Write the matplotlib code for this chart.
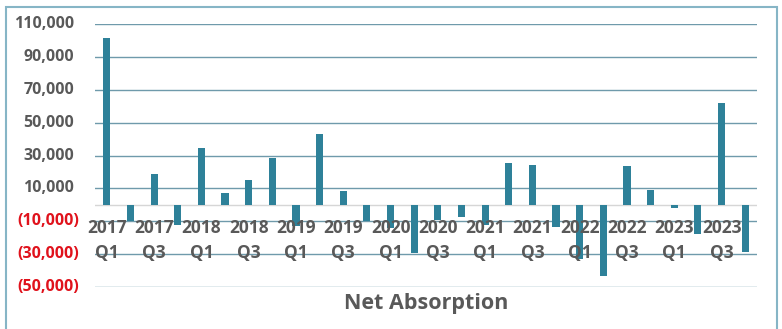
import matplotlib
matplotlib.use("Agg")
import matplotlib.pyplot as plt
import matplotlib.transforms as mtransforms
from matplotlib.patches import Rectangle

quarters = [f"{y} Q{q}" for y in range(2017, 2024) for q in range(1, 5)]
values = [101500, -9800, 18500, -12300, 34800, 6900, 15100, 28300,
          -13000, 43000, 8300, -9800, -14000, -29200, -9200, -7500,
          -12200, 25500, 24500, -13200, -33000, -43200, 23400, 9200,
          -2000, -17700, 62000, -28500]
tick_labels = ["2017\nQ1", "2017\nQ3", "2018\nQ1", "2018\nQ3", "2019\nQ1", "2019\nQ3",
               "2020\nQ1", "2020\nQ3", "2021\nQ1", "2021\nQ3", "2022\nQ1", "2022\nQ3",
               "2023\nQ1", "2023\nQ3"]
y_ticks = [110000, 90000, 70000, 50000, 30000, 10000, -10000, -30000, -50000]
y_tick_labels = ["110,000", "90,000", "70,000", "50,000", "30,000", "10,000",
                 "(10,000)", "(30,000)", "(50,000)"]
title = "Net Absorption"

FONT = ["Open Sans", "DejaVu Sans"]
BAR = "#2e8199"
GRID = "#6f9aab"
GRAY = "#595959"
RED = "#e0121c"

fig = plt.figure(figsize=(7.82, 3.29), dpi=100)
fig.patch.set_facecolor("white")
W, H = 782, 329
ax = fig.add_axes([95 / W, 1 - 287 / H, 662 / W, (287 - 24) / H])

x = list(range(len(values)))
ax.bar(x, values, width=0.3, color=BAR, zorder=3)
ax.set_xlim(-0.5, len(values) - 0.5)
ax.set_ylim(-50000, 110000)
ax.set_yticks(y_ticks)
ax.set_yticklabels([])
ax.tick_params(length=0)
ax.set_xticks([])
ax.grid(axis="y", color=GRID, linewidth=1.0, zorder=1)
ax.axhline(0, color="#d6d6d6", linewidth=1.0, zorder=2)
for s in ax.spines.values():
    s.set_visible(False)

ytr = ax.get_yaxis_transform()
for v, lab in zip(y_ticks, y_tick_labels):
    neg = v < 0
    xoff = (79 - 95) / 662 if neg else (74 - 95) / 662
    ax.text(xoff, v, lab, transform=ytr, ha="right", va="center",
            fontsize=11.5, fontweight="bold", color=RED if neg else GRAY,
            family=FONT)

off = mtransforms.offset_copy(ax.transData, fig=fig, x=0, y=-14, units="dots")
for i, lab in zip(range(0, len(values), 2), tick_labels):
    ax.text(i, 0, lab, transform=off, ha="center", va="top", fontsize=12.5,
            fontweight="bold", color=GRAY, family=FONT, linespacing=1.5,
            zorder=4)

fig.text(426 / W, 1 - 304 / H, title, ha="center", va="center", fontsize=15.5,
         fontweight="bold", color=GRAY, family=FONT)

fig.patches.append(Rectangle((6 / W, -0.05), (777 - 6) / W, (1 - 7 / H) + 0.05,
                             transform=fig.transFigure, fill=False,
                             edgecolor="#86b5c6", linewidth=1.5))

fig.savefig("out.png", dpi=100)
